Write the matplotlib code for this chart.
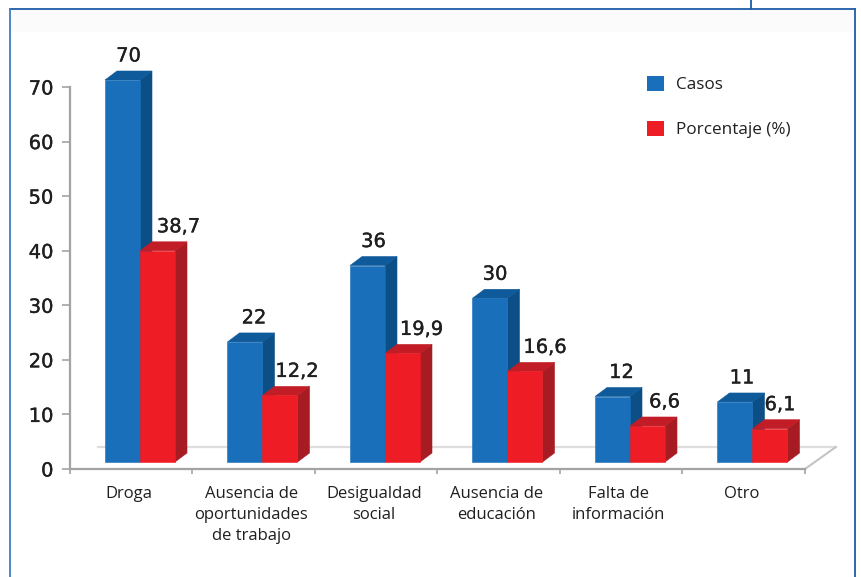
import matplotlib
matplotlib.use("Agg")
import matplotlib.pyplot as plt
import matplotlib.patheffects as pe
from matplotlib.lines import Line2D
from matplotlib.patches import Patch, Rectangle

categories = ["Droga", "Ausencia de\noportunidades\nde trabajo", "Desigualdad\nsocial",
              "Ausencia de\neducación", "Falta de\ninformación", "Otro"]
casos = [70, 22, 36, 30, 12, 11]
porcentaje = [38.7, 12.2, 19.9, 16.6, 6.6, 6.1]
casos_labels = ["70", "22", "36", "30", "12", "11"]
porcentaje_labels = ["38,7", "12,2", "19,9", "16,6", "6,6", "6,1"]
y_ticks = [0, 10, 20, 30, 40, 50, 60, 70]
series_names = ["Casos", "Porcentaje (%)"]

W, H = 862, 577
BLUE, BLUE_TOP, BLUE_SIDE = "#1a6fba", "#0f5a9a", "#0b4f86"
RED, RED_TOP, RED_SIDE = "#ee1c25", "#c21d26", "#a71b22"
AXIS = "#a3a3a3"
TXT = "#1f1f1f"
CAT_FONT = "Open Sans"
THICK = [pe.withStroke(linewidth=0.25, foreground=TXT)]

fig = plt.figure(figsize=(W / 100, H / 100), dpi=100, facecolor="white")


def fx(p):
    return p / W


def fy(p):
    return 1 - p / H


# page frame
fig.add_artist(Rectangle((fx(11), fy(32)), fx(843), 22 / H, transform=fig.transFigure,
                         facecolor="#fbfbfb", edgecolor="none"))
for xs, ys, col in [((10, 855), (9, 9), "#1f5ca8"), ((10, 10), (9, 577), "#3f7cc4"),
                    ((855, 855), (9, 577), "#1f5ca8"), ((751, 751), (0, 9), "#1f5ca8")]:
    fig.add_artist(Line2D([fx(x) for x in xs], [fy(y) for y in ys], transform=fig.transFigure,
                          color=col, lw=1.3))

PX_Y0, PX_Y70, PX_X0, PX_X6 = 469, 87, 70, 805
ax = fig.add_axes([fx(PX_X0), fy(PX_Y0), (PX_X6 - PX_X0) / W, (PX_Y0 - PX_Y70) / H])
ax.set_xlim(0, 6)
ax.set_ylim(0, 70)
ax.patch.set_alpha(0)
for s in ("top", "right"):
    ax.spines[s].set_visible(False)
for s in ("left", "bottom"):
    ax.spines[s].set_color(AXIS)
    ax.spines[s].set_linewidth(1.6)

ux = (PX_X6 - PX_X0) / 6  # px per x unit
uy = (PX_Y0 - PX_Y70) / 70  # px per y unit
bar_w = 35 / ux
dx, dy = 12 / ux, 9 / uy
base = 7 / uy
start = 35 / ux

# floor
ax.plot([28 / ux, 6 + dx * 2.55], [4, 4], color="#dedede", lw=1.6, zorder=1, clip_on=False)
ax.plot([6, 6 + dx * 2.55], [0, 4], color="#c4c4c4", lw=1.5, zorder=1, clip_on=False)

z = 3
for i in range(len(categories)):
    for j, (v, c, ct, cs) in enumerate([(casos[i], BLUE, BLUE_TOP, BLUE_SIDE),
                                        (porcentaje[i], RED, RED_TOP, RED_SIDE)]):
        x0 = i + start + j * bar_w
        x1 = x0 + bar_w
        top = base + v
        ax.fill([x1, x1 + dx, x1 + dx, x1], [base, base + dy, top + dy, top], facecolor=cs, edgecolor=cs, lw=0.4,
                zorder=z, clip_on=False)
        ax.fill([x0, x0 + dx, x1 + dx, x1], [top, top + dy, top + dy, top], facecolor=ct, edgecolor=ct, lw=0.4,
                zorder=z, clip_on=False)
        ax.bar(x0, v, width=bar_w, bottom=base, align="edge", facecolor=c, edgecolor=c, lw=0.4, zorder=z,
               clip_on=False)
        z += 1

blue_shift = [6, 9, 6, 5, 9, 7]
red_shift = [21, 17, 19, 20, 17, 10]
for i in range(len(categories)):
    xb = i + start + bar_w / 2
    xr = xb + bar_w
    ax.annotate(casos_labels[i], (xb, base + casos[i] + dy), xytext=(blue_shift[i], 15),
                textcoords="offset pixels", ha="center", va="center", fontsize=14, color=TXT, zorder=30,
                annotation_clip=False, path_effects=THICK)
    ax.annotate(porcentaje_labels[i], (xr, base + porcentaje[i] + dy), xytext=(red_shift[i], 15),
                textcoords="offset pixels", ha="center", va="center", fontsize=14, color=TXT, zorder=30,
                annotation_clip=False, path_effects=THICK)

ax.set_yticks(y_ticks)
ax.tick_params(axis="y", length=6, width=1.2, color=AXIS, labelsize=14, labelcolor=TXT, pad=6)
for lab in ax.get_yticklabels():
    lab.set_path_effects(THICK)
ax.set_xticks(range(7))
ax.tick_params(axis="x", which="major", length=3.5, width=1.2, color=AXIS, labelbottom=False)
ax.set_xticks([i + 0.48 for i in range(6)], minor=True)
ax.set_xticklabels(categories, minor=True, fontsize=12, family=CAT_FONT, color=TXT, linespacing=1.42)
ax.tick_params(axis="x", which="minor", length=0, pad=12.5)

handles = [Patch(facecolor=BLUE, edgecolor="none"), Patch(facecolor=RED, edgecolor="none")]
ax.legend(handles, series_names, loc="upper left", bbox_to_anchor=((647 - PX_X0) / (PX_X6 - PX_X0), 1.03),
          frameon=False, prop={"family": CAT_FONT, "size": 12.3}, handlelength=1.0, handleheight=1.0,
          handletextpad=0.68, labelspacing=1.62, borderpad=0, borderaxespad=0, labelcolor=TXT)

fig.savefig("out.png", dpi=100)
